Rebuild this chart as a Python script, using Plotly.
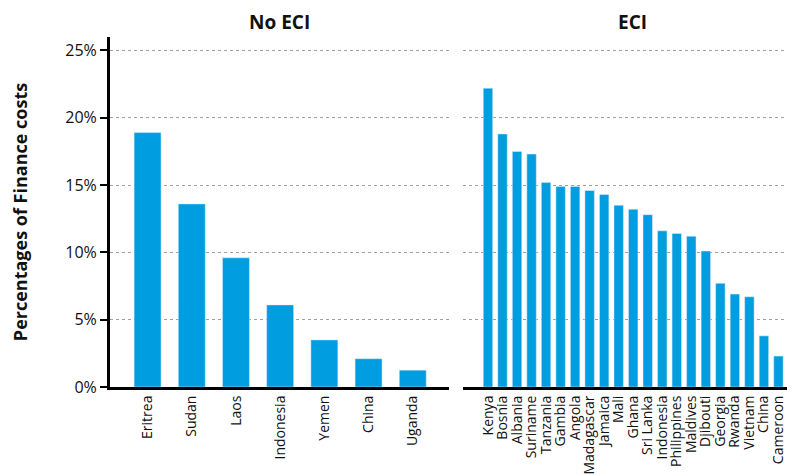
import plotly.graph_objects as go

no_eci_countries = ["Eritrea", "Sudan", "Laos", "Indonesia", "Yemen", "China", "Uganda"]
no_eci_values = [18.9, 13.6, 9.6, 6.1, 3.5, 2.1, 1.25]

eci_countries = ["Kenya", "Bosnia", "Albania", "Suriname", "Tanzania", "Gambia", "Angola",
                 "Madagascar", "Jamaica", "Mali", "Ghana", "Sri Lanka", "Indonesia",
                 "Philippines", "Maldives", "Djibouti", "Georgia", "Rwanda", "Vietnam",
                 "China", "Cameroon"]
eci_values = [22.2, 18.8, 17.5, 17.3, 15.2, 14.9, 14.9, 14.6, 14.3, 13.5, 13.2, 12.8,
              11.6, 11.4, 11.2, 10.1, 7.7, 6.9, 6.7, 3.8, 2.3]

y_ticks = [0, 5, 10, 15, 20, 25]
y_ticklabels = ["0%", "5%", "10%", "15%", "20%", "25%"]

BLUE = "#009DE0"
FONT = "Open Sans"

fig = go.Figure()
fig.add_trace(go.Bar(x=no_eci_countries, y=no_eci_values, marker_color=BLUE,
                     xaxis="x", yaxis="y", showlegend=False))
fig.add_trace(go.Bar(x=eci_countries, y=eci_values, marker_color=BLUE,
                     xaxis="x2", yaxis="y2", showlegend=False, width=0.65))

OFF = 8  # page body offset
W, H = 795 - OFF, 475 - OFF
L = 110 - OFF
T = 37 - OFF
B = H - (389 - OFF)
R = 0
pw = W - L - R
ph = H - T - B


def px_x(sx):
    return (sx - OFF - L) / pw


def px_y(sy):
    return (H - B - (sy - OFF)) / ph


fig.update_layout(
    width=W, height=H,
    margin=dict(l=L, r=R, t=T, b=B),
    plot_bgcolor="white", paper_bgcolor="white",
    font=dict(family=FONT, color="#111", size=14),
    bargap=0.39,
    xaxis=dict(domain=[0, px_x(449)], range=[-0.85, 6.82],
               showline=True, linecolor="black", linewidth=3,
               tickangle=-90, tickfont=dict(size=14), ticks="",
               tickmode="array", tickvals=no_eci_countries,
               showgrid=False, anchor="y"),
    xaxis2=dict(domain=[px_x(463), 1], range=[-1.72, 21.14],
                showline=True, linecolor="black", linewidth=3,
                tickangle=-90, tickfont=dict(size=14), ticks="",
                tickmode="array", tickvals=eci_countries,
                showgrid=False, anchor="y2"),
    yaxis=dict(range=[0, 26], tickvals=y_ticks, ticktext=y_ticklabels,
               showline=True, linecolor="black", linewidth=3,
               ticks="outside", ticklen=7, tickwidth=2, tickcolor="black",
               showgrid=True, gridcolor="#a0a0a0", griddash="dot", gridwidth=1.3,
               zeroline=False, tickfont=dict(size=16),
               title=dict(text="<b>Percentages of Finance costs</b>", font=dict(size=18),
                          standoff=36),
               anchor="x"),
    yaxis2=dict(range=[0, 26], tickvals=y_ticks, showticklabels=False,
                showline=False, ticks="",
                showgrid=True, gridcolor="#a0a0a0", griddash="dot", gridwidth=1.3,
                zeroline=False, anchor="x2"),
    annotations=[
        dict(text="<b>No ECI</b>", x=px_x(279), y=px_y(22), xref="paper", yref="paper",
             xanchor="center", yanchor="middle",
             showarrow=False, font=dict(size=19)),
        dict(text="<b>ECI</b>", x=px_x(632), y=px_y(22), xref="paper", yref="paper",
             xanchor="center", yanchor="middle",
             showarrow=False, font=dict(size=19)),
    ],
)

fig.write_html("out.html")
